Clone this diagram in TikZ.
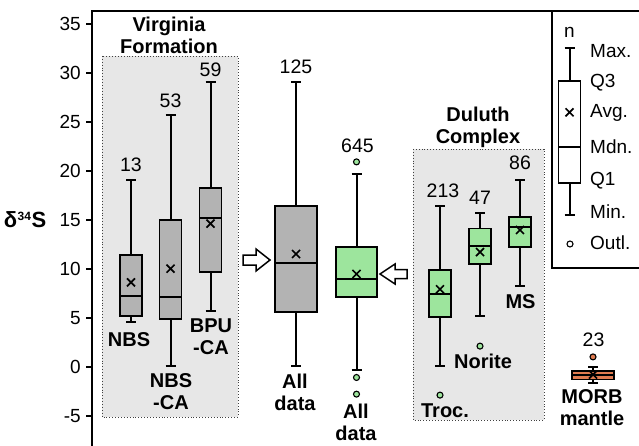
\documentclass[tikz,border=0pt]{standalone}
\usepackage{fontspec}
\setmainfont{Liberation Sans}
\definecolor{grayfill}{HTML}{B3B3B3}
\definecolor{regfill}{HTML}{E7E7E7}
\definecolor{greenfill}{HTML}{9DE59D}
\definecolor{orangefill}{HTML}{E07B50}
\newcommand\yv[1]{366.7-9.8*(#1)}
% x, halfwidth, min, q1, med, q3, max, avg, fill
\newcommand\bplot[9]{%
  \draw[whisk] (#1,{\yv{#3}}) -- (#1,{\yv{#4}}) (#1,{\yv{#6}}) -- (#1,{\yv{#7}});
  \draw[whisk] (#1-5,{\yv{#3}}) -- (#1+5,{\yv{#3}}) (#1-5,{\yv{#7}}) -- (#1+5,{\yv{#7}});
  \draw[boxst,fill=#9] (#1-#2,{\yv{#4}}) rectangle (#1+#2,{\yv{#6}});
  \draw[whisk] (#1-#2,{\yv{#5}}) -- (#1+#2,{\yv{#5}});
  \draw[avgmark] (#1,{\yv{#8}}) +(-4,-4) -- +(4,4) +(-4,4) -- +(4,-4);
}
\begin{document}
\begin{tikzpicture}[x=1pt,y=-1pt,
  whisk/.style={line width=2pt},
  boxst/.style={line width=1.8pt},
  avgmark/.style={line width=1.7pt},
  outl/.style={line width=1.1pt, fill=#1},
  region/.style={fill=regfill, draw=black!75, dotted, line width=0.9pt},
  nlab/.style={font=\fontsize{19.5}{20}\selectfont, inner sep=0},
  blab/.style={font=\bfseries\fontsize{20}{22}\selectfont, inner sep=0, align=center},
  tlab/.style={font=\fontsize{19}{20}\selectfont, anchor=east, inner sep=0},
  leglab/.style={font=\fontsize{19}{20}\selectfont, anchor=west, inner sep=0},
  hollow/.style={draw, line width=1.5pt, fill=white, line join=miter}
]
\clip (0,0) rectangle (639,446);
\fill[white] (0,0) rectangle (639,446);

% regions
\draw[region] (102,56) rectangle (238,417);
\draw[region] (413,149) rectangle (544,420);
\node[blab] (vf) at (169,35.5) {Virginia\\Formation};
\node[blab] (dc) at (478,127) {Duluth\\Complex};

% axes / frame
\draw[line width=2pt] (92,450) -- (92,11) -- (645,11);
\foreach \v in {35,30,25,20,15,10,5,0,-5}{
  \draw[line width=1.8pt] (86,{\yv{\v}}) -- (92,{\yv{\v}});
  \node[tlab] (t\v) at (81,{\yv{\v}}) {\v};
}
\node[inner sep=0, font=\bfseries\fontsize{22}{22}\selectfont] (ylab) at (25,{\yv{15}})
  {δ\kern0.5pt\raisebox{0.65ex}{\fontsize{12}{12}\selectfont 34}\kern0.5ptS};

% Virginia boxes
\bplot{131}{11}{4.6}{5.2}{7.2}{11.4}{19.1}{8.6}{grayfill}
\bplot{170.5}{11}{0.1}{4.9}{7.1}{15.0}{25.7}{10.0}{grayfill}
\bplot{210.5}{11}{5.7}{9.7}{15.2}{18.2}{29.1}{14.6}{grayfill}
\node[nlab] (n13) at (131,165) {13};
\node[nlab] (n53) at (170.5,101) {53};
\node[nlab] (n59) at (210.5,70) {59};
\node[blab] (lnbs) at (129,340) {NBS};
\node[blab] (lnbsca) at (171,392) {NBS\\-CA};
\node[blab] (lbpu) at (211,337) {BPU\\-CA};

% All data gray
\bplot{296}{21}{0.1}{5.6}{10.55}{16.4}{29.1}{11.5}{grayfill}
\node[nlab] (n125) at (296,67) {125};
\node[blab] (lall1) at (295,392) {All\\data};

% All data green
\bplot{356.5}{20.5}{-0.35}{7.1}{9.0}{12.2}{19.7}{9.46}{greenfill}
\draw[outl=greenfill] (356.5,{\yv{20.9}}) circle (3);
\draw[outl=greenfill] (356.5,{\yv{-1.1}}) circle (3);
\draw[outl=greenfill] (356.5,{\yv{-2.8}}) circle (3);
\node[nlab] (n645) at (357.5,145.5) {645};
\node[blab] (lall2) at (356,422) {All\\data};

% hollow arrows
\draw[hollow] (243,255) -- (256,255) -- (256,249) -- (270,260) -- (256,271) -- (256,265) -- (243,265) -- cycle;
\draw[hollow] (407,269.5) -- (395,269.5) -- (395,264) -- (380,274) -- (395,284) -- (395,278.5) -- (407,278.5) -- cycle;

% Duluth boxes
\bplot{440}{11}{0.1}{5.1}{7.4}{9.9}{16.4}{7.9}{greenfill}
\draw[outl=greenfill] (440,{\yv{-2.9}}) circle (3);
\bplot{480}{11}{5.2}{10.5}{12.3}{14.1}{15.65}{11.7}{greenfill}
\draw[outl=greenfill] (480,{\yv{2.1}}) circle (3);
\bplot{520}{11}{8.2}{12.2}{14.3}{15.25}{19.1}{13.95}{greenfill}
\node[nlab] (n213) at (443,191) {213};
\node[nlab] (n47) at (480,197.5) {47};
\node[nlab] (n86) at (520,163) {86};
\node[blab] (ltroc) at (445,411) {Troc.};
\node[blab] (lnor) at (483,361) {Norite};
\node[blab] (lms) at (520.5,302) {MS};

% MORB
\bplot{593}{21}{-1.7}{-1.3}{-0.8}{-0.4}{0.0}{-0.8}{orangefill}
\draw[outl=orangefill] (593,{\yv{1.0}}) circle (3);
\node[nlab] (n23) at (593.5,340) {23};
\node[blab] (lmorb) at (592,408) {MORB\\mantle};

% legend
\draw[line width=2pt, fill=white] (552,11) -- (552,268) -- (645,268);
\draw[whisk] (569.5,47.7) -- (569.5,81) (569.5,183.3) -- (569.5,215);
\draw[whisk] (564.5,47.7) -- (574.5,47.7) (564.5,215) -- (574.5,215);
\draw[boxst, fill=white] (558.5,81) rectangle (580.5,183.3);
\draw[whisk] (558.5,146.7) -- (580.5,146.7);
\draw[avgmark] (569.5,112.3) +(-4,-4) -- +(4,4) +(-4,4) -- +(4,-4);
\draw[outl=white] (570,244) circle (3);
\node[nlab, font=\fontsize{19}{20}\selectfont] (legn) at (569.5,32) {n};
\node[leglab] (lmax) at (590,51) {Max.};
\node[leglab] (lq3) at (590,83) {Q3};
\node[leglab] (lavg) at (590,113) {Avg.};
\node[leglab] (lmdn) at (590,147) {Mdn.};
\node[leglab] (lq1) at (590,181) {Q1};
\node[leglab] (lmin) at (590,212) {Min.};
\node[leglab] (lout) at (590,243) {Outl.};
\end{tikzpicture}
\end{document}
